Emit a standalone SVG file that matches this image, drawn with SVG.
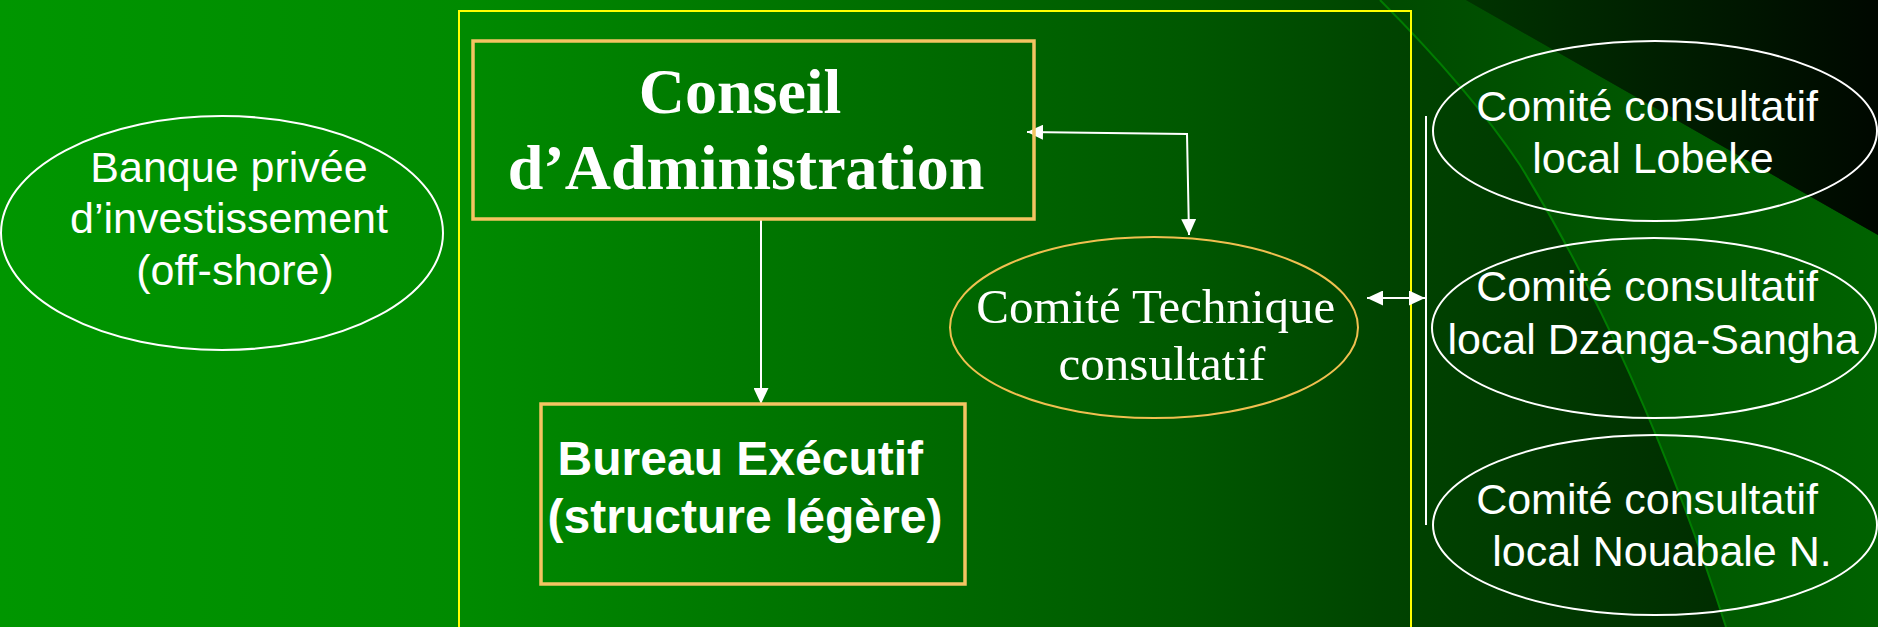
<svg xmlns="http://www.w3.org/2000/svg" width="1878" height="627" viewBox="0 0 1878 627">
  <defs>
    <linearGradient id="bg" x1="0" y1="0" x2="1878" y2="0" gradientUnits="userSpaceOnUse">
      <stop offset="0" stop-color="#009600"/>
      <stop offset="0.25" stop-color="#008a00"/>
      <stop offset="0.42" stop-color="#007400"/>
      <stop offset="0.63" stop-color="#005800"/>
      <stop offset="0.735" stop-color="#004400"/>
      <stop offset="0.88" stop-color="#003200"/>
      <stop offset="1" stop-color="#002200"/>
    </linearGradient>
    <linearGradient id="corner" x1="1466" y1="0" x2="1878" y2="0" gradientUnits="userSpaceOnUse">
      <stop offset="0" stop-color="#003400"/>
      <stop offset="1" stop-color="#000800"/>
    </linearGradient>
    <linearGradient id="band" x1="1380" y1="0" x2="1878" y2="0" gradientUnits="userSpaceOnUse">
      <stop offset="0" stop-color="#004a00"/>
      <stop offset="1" stop-color="#006200"/>
    </linearGradient>
    <marker id="ah" markerUnits="userSpaceOnUse" markerWidth="16" markerHeight="15" refX="16" refY="7.5" orient="auto-start-reverse" viewBox="0 0 16 15">
      <path d="M0,0 L16,7.5 L0,15 z" fill="#ffffff"/>
    </marker>
    <style>
      .sans { font-family: "Liberation Sans", Arial, sans-serif; fill: #ffffff; }
      .serif { font-family: "Liberation Serif", "Times New Roman", serif; fill: #ffffff; }
      .wellipse { fill: none; stroke: #ffffff; stroke-width: 2; }
      .obox { fill: none; stroke: #f4c462; }
      .conn { fill: none; stroke: #ffffff; stroke-width: 2; }
    </style>
  </defs>

  <g id="background">
    <rect x="0" y="0" width="1878" height="627" fill="url(#bg)"/>
    <path d="M1380,0 Q1470,90 1520,165 Q1640,360 1726,627 L1878,627 L1878,235 L1466,0 Z" fill="url(#band)"/>
    <polygon points="1466,0 1878,0 1878,235" fill="url(#corner)"/>
    <path d="M1380,0 Q1470,90 1520,165 Q1640,360 1726,627" fill="none" stroke="#007c00" stroke-width="2"/>
  </g>

  <g id="frame">
    <rect x="459" y="11" width="952" height="630" fill="none" stroke="#ffff00" stroke-width="2"/>
  </g>

  <g id="connectors">
    <line class="conn" x1="761" y1="219" x2="761" y2="404" marker-end="url(#ah)"/>
    <polyline class="conn" points="1027,132 1187,134 1189,235" marker-start="url(#ah)" marker-end="url(#ah)"/>
    <line class="conn" x1="1367" y1="298" x2="1425" y2="298" marker-start="url(#ah)" marker-end="url(#ah)"/>
    <line class="conn" x1="1426" y1="116" x2="1426" y2="525"/>
  </g>

  <g id="banque">
    <ellipse class="wellipse" cx="222" cy="233" rx="221" ry="117"/>
    <text class="sans" font-size="43" text-anchor="middle">
      <tspan x="235" y="182">Banque privée</tspan>
      <tspan x="235" y="233">d’investissement</tspan>
      <tspan x="235" y="285">(off-shore)</tspan>
    </text>
  </g>

  <g id="conseil">
    <rect class="obox" x="473" y="41" width="561" height="178" stroke-width="3.5"/>
    <text class="serif" font-size="64" font-weight="bold" text-anchor="middle">
      <tspan x="748" y="113">Conseil</tspan>
      <tspan x="746" y="189">d’Administration</tspan>
    </text>
  </g>

  <g id="bureau">
    <rect class="obox" x="541" y="404" width="424" height="180" stroke-width="3.5"/>
    <text class="sans" font-size="48" font-weight="bold" text-anchor="middle">
      <tspan x="747" y="475">Bureau Exécutif</tspan>
      <tspan x="745" y="533">(structure légère)</tspan>
    </text>
  </g>

  <g id="comite-technique">
    <ellipse cx="1154" cy="327.5" rx="204" ry="90.5" fill="none" stroke="#f0c050" stroke-width="2"/>
    <text class="serif" font-size="49" text-anchor="middle">
      <tspan x="1162" y="323">Comité Technique</tspan>
      <tspan x="1162" y="380">consultatif</tspan>
    </text>
  </g>

  <g id="lobeke">
    <ellipse class="wellipse" cx="1655" cy="131" rx="222" ry="90"/>
    <text class="sans" font-size="43" text-anchor="middle">
      <tspan x="1653" y="121">Comité consultatif</tspan>
      <tspan x="1653" y="173">local Lobeke</tspan>
    </text>
  </g>

  <g id="dzanga">
    <ellipse class="wellipse" cx="1654" cy="328" rx="222" ry="90"/>
    <text class="sans" font-size="43" text-anchor="middle">
      <tspan x="1653" y="301">Comité consultatif</tspan>
      <tspan x="1653" y="354">local Dzanga-Sangha</tspan>
    </text>
  </g>

  <g id="nouabale">
    <ellipse class="wellipse" cx="1655" cy="525" rx="222" ry="90"/>
    <text class="sans" font-size="43" text-anchor="middle">
      <tspan x="1653" y="514">Comité consultatif</tspan>
      <tspan x="1662" y="566">local Nouabale N.</tspan>
    </text>
  </g>
</svg>
